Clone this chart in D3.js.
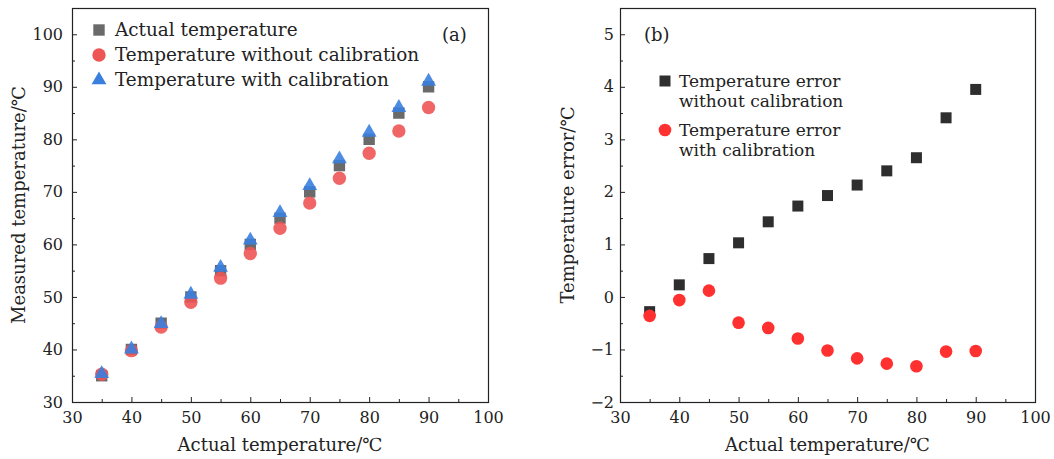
<!DOCTYPE html>
<html>
<head>
<meta charset="utf-8">
<title>Temperature calibration</title>
<script src="https://cdn.jsdelivr.net/npm/d3@7/dist/d3.min.js"></script>
<style>
  body { margin: 0; background: #fff; }
  text { font-family: "DejaVu Serif", serif; fill: #222; }
</style>
</head>
<body>
<script>

// data
var actualTemp = [35, 40, 45, 50, 55, 60, 65, 70, 75, 80, 85, 90];
var errWithout = [-0.28, 0.23, 0.73, 1.03, 1.43, 1.73, 1.93, 2.13, 2.40, 2.65, 3.41, 3.95];
var errWith    = [-0.36, -0.06, 0.12, -0.49, -0.59, -0.79, -1.02, -1.17, -1.27, -1.32, -1.04, -1.03];
var measWithout = [35.28, 39.77, 44.27, 48.97, 53.57, 58.27, 63.07, 67.87, 72.60, 77.35, 81.59, 86.05];
var measWith    = [35.36, 40.06, 44.88, 50.49, 55.59, 60.79, 66.02, 71.17, 76.27, 81.32, 86.04, 91.03];

var xTicks = [30, 40, 50, 60, 70, 80, 90, 100];
var yTicksA = [30, 40, 50, 60, 70, 80, 90, 100];
var yTicksB = [-2, -1, 0, 1, 2, 3, 4, 5];

var W = 1054, H = 459;
var svg = d3.select("body").append("svg")
  .attr("width", W).attr("height", H);

var fmt = function(d) { return d < 0 ? "\u2212" + Math.abs(d) : String(d); };

function drawPanel(opt) {
  var x = d3.scaleLinear().domain([30, 100]).range([opt.left, opt.right]);
  var y = d3.scaleLinear().domain(opt.yDomain).range([402, 8]);
  var g = svg.append("g");

  // minor + major ticks, inside
  var xMinor = d3.range(35, 100, 10);
  var yMinor = opt.yMinor;

  var xAxis = d3.axisBottom(x).tickValues(xTicks).tickSize(-5).tickFormat(fmt).tickPadding(10);
  var xAxisMinor = d3.axisBottom(x).tickValues(xMinor).tickSize(-3).tickFormat("");
  var yAxis = d3.axisLeft(y).tickValues(opt.yTicks).tickSize(-5).tickFormat(fmt).tickPadding(opt.yPad);
  var yAxisMinor = d3.axisLeft(y).tickValues(yMinor).tickSize(-3).tickFormat("");

  [g.append("g").attr("transform", "translate(0,402)").call(xAxis),
   g.append("g").attr("transform", "translate(0,402)").call(xAxisMinor),
   g.append("g").attr("transform", "translate(" + opt.left + ",0)").call(yAxis),
   g.append("g").attr("transform", "translate(" + opt.left + ",0)").call(yAxisMinor)
  ].forEach(function(a) {
    a.select(".domain").remove();
    a.selectAll("line").attr("stroke", "#222").attr("stroke-width", 1);
    a.selectAll("text").attr("font-size", 16).attr("font-family", "DejaVu Serif").attr("fill", "#222");
  });

  g.append("rect")
    .attr("x", opt.left + 0.5).attr("y", 8.5)
    .attr("width", opt.right - opt.left).attr("height", 394)
    .attr("fill", "none").attr("stroke", "#222").attr("stroke-width", 1.2);

  g.append("text")
    .attr("x", (opt.left + opt.right) / 2).attr("y", 451)
    .attr("text-anchor", "middle").attr("font-size", 18)
    .text("Actual temperature/\u2103");

  g.append("text")
    .attr("transform", "translate(" + opt.yLabelX + ",205) rotate(-90)")
    .attr("text-anchor", "middle").attr("font-size", 18)
    .text(opt.yLabel);

  g.append("text")
    .attr("x", opt.tagX).attr("y", 41).attr("font-size", 18)
    .text(opt.tag);

  return { x: x, y: y, g: g };
}

function symbolPath(type, size) {
  return d3.symbol().type(type).size(size)();
}

// panel (a)
var pa = drawPanel({
  left: 72, right: 488, yDomain: [30, 105],
  yTicks: yTicksA, yMinor: d3.range(35, 105, 10), yPad: 9,
  yLabel: "Measured temperature/\u2103", yLabelX: 25,
  tag: "(a)", tagX: 442
});

var seriesA = [
  { name: "Actual temperature", values: actualTemp, type: d3.symbolSquare, size: 130, color: "#6a6a6a", opacity: 1 },
  { name: "Temperature without calibration", values: measWithout, type: d3.symbolCircle, size: 140, color: "#ee5555", opacity: 0.9 },
  { name: "Temperature with calibration", values: measWith, type: d3.symbolTriangle, size: 95, color: "#3a7fe0", opacity: 0.9 }
];

seriesA.forEach(function(s, si) {
  pa.g.append("g").selectAll("path")
    .data(s.values)
    .join("path")
    .attr("d", symbolPath(s.type, s.size))
    .attr("transform", function(d, i) { return "translate(" + pa.x(actualTemp[i]) + "," + pa.y(d) + ")"; })
    .attr("fill", s.color).attr("fill-opacity", s.opacity);

  var ly = 30 + si * 25;
  pa.g.append("path")
    .attr("d", symbolPath(s.type, s.size))
    .attr("transform", "translate(99," + ly + ")")
    .attr("fill", s.color);
  pa.g.append("text")
    .attr("x", 115).attr("y", ly + 6).attr("font-size", 18.4)
    .text(s.name);
});

// panel (b)
var pb = drawPanel({
  left: 620, right: 1035, yDomain: [-2, 5.5],
  yTicks: yTicksB, yMinor: d3.range(-1.5, 5.5, 1), yPad: 6,
  yLabel: "Temperature error/\u2103", yLabelX: 574,
  tag: "(b)", tagX: 644
});

var seriesB = [
  { lines: ["Temperature error", "without calibration"], values: errWithout, type: d3.symbolSquare, size: 121, color: "#2e2e2e" },
  { lines: ["Temperature error", "with calibration"], values: errWith, type: d3.symbolCircle, size: 125, color: "#ff3030" }
];

seriesB.forEach(function(s, si) {
  pb.g.append("g").selectAll("path")
    .data(s.values)
    .join("path")
    .attr("d", symbolPath(s.type, s.size))
    .attr("transform", function(d, i) { return "translate(" + pb.x(actualTemp[i]) + "," + pb.y(d) + ")"; })
    .attr("fill", s.color);

  var ly = 81 + si * 49;
  pb.g.append("path")
    .attr("d", symbolPath(s.type, s.size))
    .attr("transform", "translate(665," + ly + ")")
    .attr("fill", s.color);
  s.lines.forEach(function(l, li) {
    pb.g.append("text")
      .attr("x", 679).attr("y", ly + 6 + li * 19.5)
      .attr("font-size", 17)
      .text(l);
  });
});

</script>
</body>
</html>
